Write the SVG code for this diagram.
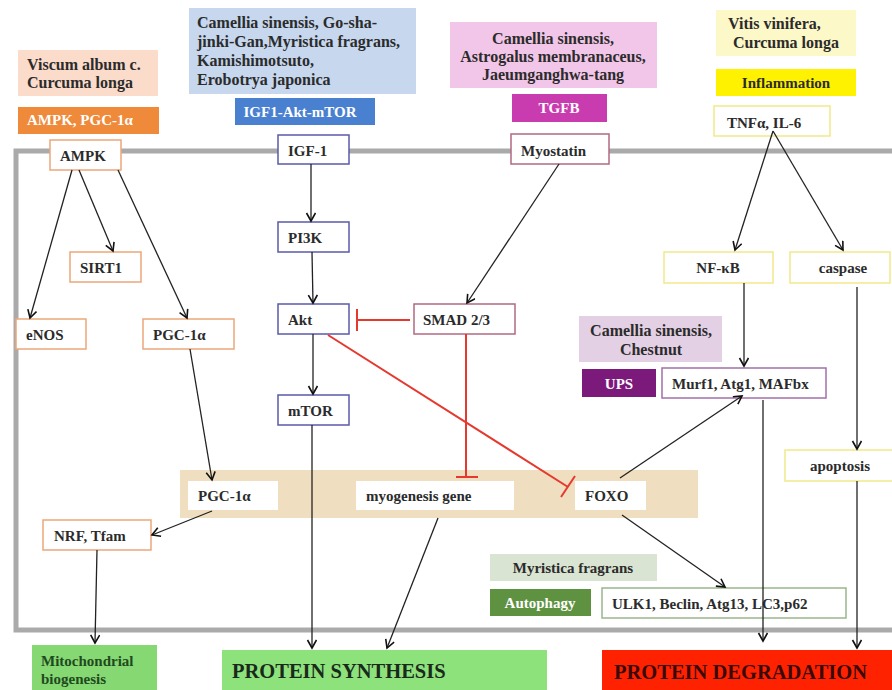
<svg xmlns="http://www.w3.org/2000/svg" width="892" height="690" viewBox="0 0 892 690">
<defs>
<marker id="arr" markerUnits="userSpaceOnUse" markerWidth="12" markerHeight="12" refX="9" refY="5" orient="auto">
<path d="M1,0.5 L9,5 L1,9.5" fill="none" stroke="#111" stroke-width="1.6"/>
</marker>
</defs>
<style>
text{font-family:"Liberation Serif","Times New Roman",serif;font-weight:bold;font-size:15px;fill:#2b2b2b}
.h{font-size:16px}
.w{fill:#ffffff}
.c{text-anchor:middle}
.nb{fill:#fff;stroke-width:1.5}
.or{stroke:#eba67a}
.bl{stroke:#5a5aaa}
.mr{stroke:#b06a80}
.ye{stroke:#f2e98a}
.pu{stroke:#a070a8}
.gr{stroke:#9bb68c}
.ln{stroke:#222;stroke-width:1.3;fill:none;marker-end:url(#arr)}
.red{stroke:#e5392f;stroke-width:2;fill:none}
.big{font-size:20.5px}
</style>
<rect width="892" height="690" fill="#fff"/>
<rect id="frame" x="16" y="151" width="900" height="479" fill="none" stroke="#aaaaaa" stroke-width="5"/>
<rect id="band" x="180" y="470" width="518" height="48" fill="#efdfc0"/>

<g id="viscum"><rect x="18" y="50" width="140" height="46" fill="#fbdccb"/><text x="27" y="70" class="h">Viscum album c.</text><text x="27" y="88" class="h">Curcuma longa</text></g>
<g id="ampk-label"><rect x="18" y="107" width="141" height="27" fill="#ef8a3a"/><text x="27" y="125" class="w">AMPK, PGC-1α</text></g>
<g id="ampk"><rect x="50" y="140" width="71" height="30" class="nb or"/><text x="60" y="161">AMPK</text></g>

<g id="camellia1"><rect x="189" y="8" width="227" height="86" fill="#c6d7ee"/><text x="197" y="28" class="h">Camellia sinensis, Go-sha-</text><text x="197" y="47" class="h">jinki-Gan,Myristica fragrans,</text><text x="197" y="66" class="h">Kamishimotsuto,</text><text x="197" y="85" class="h">Erobotrya japonica</text></g>
<g id="igf-label"><rect x="235" y="98" width="140" height="27" fill="#4a80d0"/><text x="300" y="117" class="w c">IGF1-Akt-mTOR</text></g>
<g id="igf1"><rect x="278" y="135" width="71" height="29" class="nb bl"/><text x="288" y="156">IGF-1</text></g>

<g id="camellia2"><rect x="450" y="22" width="207" height="66" fill="#f2c6e8"/><text x="553" y="44" class="h c">Camellia sinensis,</text><text x="553" y="62" class="h c">Astrogalus membranaceus,</text><text x="553" y="80" class="h c">Jaeumganghwa-tang</text></g>
<g id="tgfb-label"><rect x="512" y="94" width="95" height="28" fill="#c83cb0"/><text x="559" y="113" class="w c">TGFB</text></g>
<g id="myostatin"><rect x="511" y="134" width="98" height="30" class="nb mr"/><text x="521" y="156">Myostatin</text></g>

<g id="vitis"><rect x="716" y="10" width="140" height="46" fill="#fdf8c8"/><text x="728" y="29" class="h">Vitis vinifera,</text><text x="733" y="48" class="h">Curcuma longa</text></g>
<g id="inflammation"><rect x="716" y="69" width="140" height="27" fill="#fff200"/><text x="786" y="88" class="c">Inflammation</text></g>
<g id="tnf"><rect x="714" y="106" width="116" height="30" class="nb ye"/><text x="727" y="128">TNFα, IL-6</text></g>

<g id="sirt1"><rect x="70" y="252" width="71" height="30" class="nb or"/><text x="80" y="273">SIRT1</text></g>
<g id="enos"><rect x="16" y="319" width="70" height="30" class="nb or"/><text x="26" y="340">eNOS</text></g>
<g id="pgc1"><rect x="143" y="319" width="91" height="30" class="nb or"/><text x="153" y="340">PGC-1α</text></g>

<g id="pi3k"><rect x="278" y="222" width="71" height="30" class="nb bl"/><text x="288" y="243">PI3K</text></g>
<g id="akt"><rect x="278" y="304" width="71" height="30" class="nb bl"/><text x="288" y="325">Akt</text></g>
<g id="mtor"><rect x="278" y="395" width="71" height="30" class="nb bl"/><text x="288" y="416">mTOR</text></g>
<g id="smad"><rect x="414" y="304" width="101" height="30" class="nb mr"/><text x="423" y="325">SMAD 2/3</text></g>

<g id="nfkb"><rect x="664" y="252" width="109" height="31" class="nb ye"/><text x="718" y="273" class="c">NF-κB</text></g>
<g id="caspase"><rect x="790" y="252" width="100" height="31" class="nb ye"/><text x="843" y="273" class="c">caspase</text></g>
<g id="chestnut"><rect x="579" y="316" width="143" height="46" fill="#e4d0e4"/><text x="651" y="336" class="h c">Camellia sinensis,</text><text x="651" y="355" class="h c">Chestnut</text></g>
<g id="ups"><rect x="582" y="369" width="74" height="28" fill="#7c1a7c"/><text x="619" y="389" class="w c">UPS</text></g>
<g id="murf"><rect x="662" y="368" width="164" height="30" class="nb pu"/><text x="672" y="389">Murf1, Atg1, MAFbx</text></g>

<g id="pgc1b"><rect x="188" y="481" width="90" height="29" fill="#fff"/><text x="198" y="501">PGC-1α</text></g>
<g id="myogenesis"><rect x="356" y="481" width="158" height="29" fill="#fff"/><text x="366" y="501">myogenesis gene</text></g>
<g id="foxo"><rect x="575" y="481" width="71" height="29" fill="#fff"/><text x="585" y="501">FOXO</text></g>

<g id="nrf"><rect x="43" y="520" width="108" height="30" class="nb or"/><text x="54" y="541">NRF, Tfam</text></g>
<g id="apoptosis"><rect x="785" y="450" width="110" height="31" class="nb ye"/><text x="840" y="471" class="c">apoptosis</text></g>
<g id="myristica"><rect x="490" y="554" width="167" height="27" fill="#d9e4d2"/><text x="573" y="573" class="c">Myristica fragrans</text></g>
<g id="autophagy"><rect x="490" y="589" width="101" height="27" fill="#5e9140"/><text x="540" y="608" class="w c">Autophagy</text></g>
<g id="ulk"><rect x="602" y="588" width="244" height="30" class="nb gr"/><text x="612" y="609">ULK1, Beclin, Atg13, LC3,p62</text></g>

<g id="mito"><rect x="32" y="645" width="125" height="50" fill="#86d872"/><text x="41" y="666" style="fill:#1f4a1f">Mitochondrial</text><text x="41" y="684" style="fill:#1f4a1f">biogenesis</text></g>
<g id="synthesis"><rect x="222" y="650" width="325" height="45" fill="#8ee27c"/><text x="232" y="678" class="big" style="fill:#1a2a1a">PROTEIN SYNTHESIS</text></g>
<g id="degradation"><rect x="602" y="650" width="295" height="45" fill="#ff2200"/><text x="614" y="679" class="big" style="fill:#3a0a0a">PROTEIN DEGRADATION</text></g>

<g id="connectors">
<line x1="72" y1="170" x2="30" y2="318" class="ln"/>
<line x1="79" y1="170" x2="113" y2="251" class="ln"/>
<line x1="118" y1="170" x2="187" y2="318" class="ln"/>
<line x1="190" y1="349" x2="212" y2="480" class="ln"/>
<line x1="212" y1="511" x2="152" y2="535" class="ln"/>
<line x1="97" y1="550" x2="95" y2="643" class="ln"/>
<line x1="311" y1="164" x2="311" y2="221" class="ln"/>
<line x1="312" y1="252" x2="313" y2="303" class="ln"/>
<line x1="313" y1="334" x2="313" y2="394" class="ln"/>
<line x1="312" y1="425" x2="312" y2="648" class="ln"/>
<line x1="438" y1="518" x2="387" y2="648" class="ln"/>
<line x1="559" y1="164" x2="467" y2="303" class="ln"/>
<line x1="773" y1="131" x2="735" y2="250" class="ln"/>
<line x1="773" y1="131" x2="843" y2="250" class="ln"/>
<line x1="744" y1="283" x2="744" y2="366" class="ln"/>
<line x1="857" y1="287" x2="857" y2="449" class="ln"/>
<line x1="857" y1="481" x2="857" y2="648" class="ln"/>
<line x1="763" y1="400" x2="763" y2="641" class="ln"/>
<line x1="620" y1="478" x2="742" y2="396" class="ln"/>
<line x1="622" y1="515" x2="725" y2="587" class="ln"/>
<line x1="410" y1="320" x2="357" y2="320" class="red"/>
<line x1="357" y1="309" x2="357" y2="331" class="red"/>
<line x1="466" y1="334" x2="466" y2="477" class="red"/>
<line x1="456" y1="477" x2="478" y2="477" class="red"/>
<line x1="328" y1="335" x2="568" y2="487" class="red"/>
<line x1="561" y1="497" x2="575" y2="476" class="red"/>
</g>
</svg>
